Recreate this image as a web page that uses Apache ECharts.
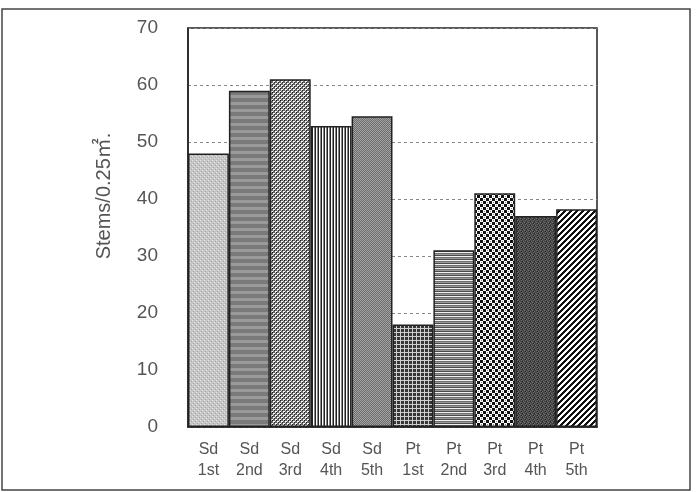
<!DOCTYPE html>
<html>
<head>
<meta charset="utf-8">
<script src="https://cdn.jsdelivr.net/npm/echarts@6/dist/echarts.min.js"></script>
<style>
  html, body { margin: 0; padding: 0; background: #fff; }
  #main { width: 697px; height: 492px; }
</style>
</head>
<body>
<div id="main"></div>
<script>
var categories = ['Sd\n1st', 'Sd\n2nd', 'Sd\n3rd', 'Sd\n4th', 'Sd\n5th',
                  'Pt\n1st', 'Pt\n2nd', 'Pt\n3rd', 'Pt\n4th', 'Pt\n5th'];
var stems = [48, 59, 61, 52.8, 54.5, 18, 31, 41, 37, 38.2];
var yTicks = { min: 0, max: 70, interval: 10 };
var yTitle = 'Stems/0.25㎡.';

// small bitmap fills, one per bar
function pat(w, h, draw) {
  var c = document.createElement('canvas');
  c.width = w; c.height = h;
  var ctx = c.getContext('2d');
  draw(ctx);
  return { image: c, repeat: 'repeat' };
}
function px(ctx, color, pts) {
  ctx.fillStyle = color;
  pts.forEach(function (p) { ctx.fillRect(p[0], p[1], p[2] || 1, p[3] || 1); });
}

var fills = [
  // Sd 1st - light grey fine dots
  pat(4, 4, function (ctx) {
    px(ctx, '#c6c6c6', [[0, 0, 4, 4]]);
    px(ctx, '#e6e6e6', [[0, 0], [2, 2]]);
    px(ctx, '#a9a9a9', [[1, 3], [3, 1]]);
  }),
  // Sd 2nd - broad horizontal grey stripes
  pat(1, 7, function (ctx) {
    px(ctx, '#7a7a7a', [[0, 0, 1, 4]]);
    px(ctx, '#9a9a9a', [[0, 4, 1, 3]]);
  }),
  // Sd 3rd - mesh of white holes
  pat(4, 4, function (ctx) {
    px(ctx, '#6a6a6a', [[0, 0, 4, 4]]);
    px(ctx, '#ffffff', [[1, 1], [3, 3], [2, 1], [0, 3]]);
    px(ctx, '#1a1a1a', [[0, 0], [2, 2]]);
    px(ctx, '#d8d8d8', [[1, 2], [3, 0]]);
  }),
  // Sd 4th - vertical stripes
  pat(3, 1, function (ctx) {
    px(ctx, '#222222', [[0, 0]]);
    px(ctx, '#ffffff', [[1, 0]]);
    px(ctx, '#888888', [[2, 0]]);
  }),
  // Sd 5th - fine dark checker
  pat(2, 2, function (ctx) {
    px(ctx, '#6c6c6c', [[0, 0, 2, 2]]);
    px(ctx, '#a4a4a4', [[0, 0], [1, 1]]);
  }),
  // Pt 1st - plaid
  pat(4, 4, function (ctx) {
    px(ctx, '#363636', [[0, 0, 4, 4]]);
    px(ctx, '#d0d0d0', [[0, 0, 4, 1], [0, 0, 1, 4]]);
  }),
  // Pt 2nd - fine horizontal stripes
  pat(1, 4, function (ctx) {
    px(ctx, '#f2f2f2', [[0, 0]]);
    px(ctx, '#6e6e6e', [[0, 1]]);
    px(ctx, '#9a9a9a', [[0, 2]]);
    px(ctx, '#4a4a4a', [[0, 3]]);
  }),
  // Pt 3rd - checkerboard
  pat(6, 6, function (ctx) {
    px(ctx, '#ffffff', [[0, 0, 6, 6]]);
    px(ctx, '#111111', [[0, 0, 3, 3], [3, 3, 3, 3]]);
    px(ctx, '#888888', [[1, 4], [4, 1]]);
  }),
  // Pt 4th - dark speckle
  pat(4, 4, function (ctx) {
    px(ctx, '#474747', [[0, 0, 4, 4]]);
    px(ctx, '#6e6e6e', [[1, 0], [3, 1], [0, 2], [2, 3]]);
    px(ctx, '#222222', [[2, 1], [1, 3]]);
  }),
  // Pt 5th - diagonal stripes
  pat(6, 6, function (ctx) {
    px(ctx, '#ffffff', [[0, 0, 6, 6]]);
    for (var x = 0; x < 6; x++) {
      for (var y = 0; y < 6; y++) {
        if ((x + y) % 6 < 3) px(ctx, '#111111', [[x, y]]);
      }
    }
  })
];

var chart = echarts.init(document.getElementById('main'), null, { renderer: 'canvas' });
chart.setOption({
  animation: false,
  backgroundColor: '#fff',
  grid: {
    left: 188, right: 100, top: 28, bottom: 65,
    show: true, borderColor: '#222', borderWidth: 1.5, backgroundColor: 'transparent'
  },
  xAxis: {
    type: 'category',
    data: categories,
    axisLine: { lineStyle: { color: '#222', width: 1.5 } },
    axisTick: { show: false },
    axisLabel: {
      color: '#555', fontFamily: 'Liberation Sans', fontSize: 16,
      lineHeight: 21, margin: 12
    }
  },
  yAxis: {
    type: 'value',
    min: yTicks.min, max: yTicks.max, interval: yTicks.interval,
    axisLine: { show: true, lineStyle: { color: '#222', width: 1.5 } },
    axisTick: { show: false },
    axisLabel: { color: '#555', fontFamily: 'Liberation Sans', fontSize: 19, margin: 30 },
    splitLine: { show: true, lineStyle: { color: '#888', type: [3, 3], width: 1 } }
  },
  series: [{
    type: 'bar',
    barCategoryGap: '0%',
    data: stems.map(function (v, i) {
      return {
        value: v,
        itemStyle: { color: fills[i], borderColor: '#222', borderWidth: 1.5 }
      };
    })
  }],
  graphic: [
    {
      type: 'rect',
      shape: { x: 2, y: 9, width: 688, height: 481 },
      style: { fill: 'none', stroke: '#444', lineWidth: 1.5 },
      silent: true
    },
    {
      type: 'text',
      x: 104, y: 196,
      rotation: Math.PI / 2,
      style: {
        text: yTitle, fill: '#555', fontFamily: "'Liberation Sans', 'Noto Sans CJK KR'", fontSize: 20,
        align: 'center', verticalAlign: 'middle'
      }
    }
  ]
});
</script>
</body>
</html>
